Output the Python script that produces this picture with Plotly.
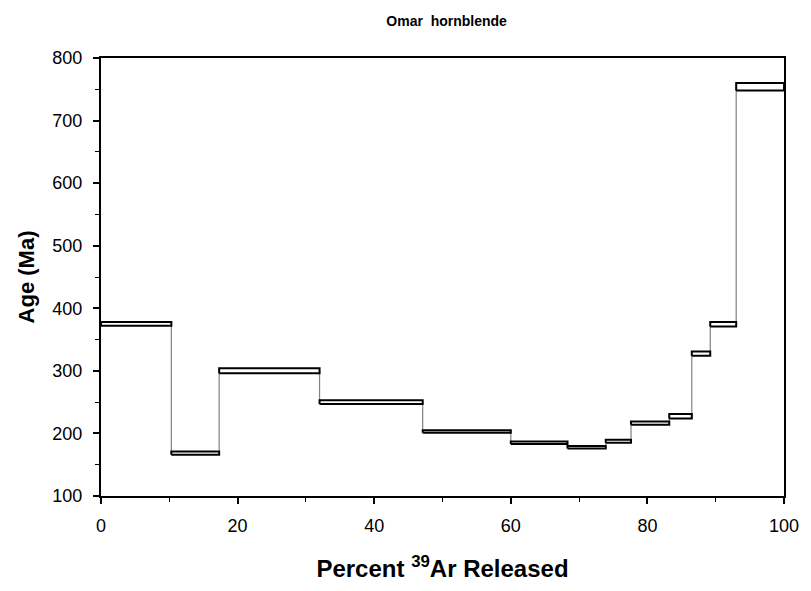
import plotly.graph_objects as go

# Step boundaries (cumulative % 39Ar released)
step_start = [0.0, 10.3, 17.3, 32.0, 47.1, 60.0, 68.3, 73.9, 77.6, 83.2, 86.5, 89.2, 93.0]
step_end   = [10.3, 17.3, 32.0, 47.1, 60.0, 68.3, 73.9, 77.6, 83.2, 86.5, 89.2, 93.0, 100.0]
# Age ranges (Ma): lower and upper bounds of each step
age_low  = [372, 166, 296, 247, 201, 183, 176, 185, 214, 224, 324, 371, 748]
age_high = [378, 171, 304, 253, 205, 187, 180, 190, 219, 231, 331, 378, 760]

x_ticks = [0, 20, 40, 60, 80, 100]
y_ticks = [100, 200, 300, 400, 500, 600, 700, 800]

fig = go.Figure()

# gray connector (step line through mid ages)
mids = [(a + b) / 2 for a, b in zip(age_low, age_high)]
cx, cy = [], []
for i in range(len(mids) - 1):
    cx += [step_end[i], step_end[i], None]
    cy += [mids[i], mids[i + 1], None]
fig.add_trace(go.Scatter(x=cx, y=cy, mode="lines",
                         line=dict(color="#808080", width=1.2),
                         hoverinfo="skip", showlegend=False))

# boxes
for x0, x1, lo, hi in zip(step_start, step_end, age_low, age_high):
    fig.add_trace(go.Scatter(
        x=[x0, x1, x1, x0, x0], y=[lo, lo, hi, hi, lo],
        mode="lines", fill="toself", fillcolor="white",
        line=dict(color="black", width=2),
        hoverinfo="skip", showlegend=False))

font_family = "Liberation Sans, Arial, sans-serif"

fig.update_layout(
    width=811, height=591,
    margin=dict(l=101, r=20, t=58, b=95),
    plot_bgcolor="white", paper_bgcolor="white",
    font=dict(family=font_family, color="black"),
    title=dict(text="<b>Omar\u00a0 hornblende</b>", x=0.5507, xanchor="center",
               y=0.964, yanchor="middle",
               font=dict(size=14, family=font_family, color="black")),
)

fig.update_xaxes(
    range=[0, 100], tickvals=x_ticks, ticktext=[str(v) for v in x_ticks],
    showgrid=False, zeroline=False,
    showline=True, linecolor="black", linewidth=2, mirror=True,
    ticks="outside", ticklen=6, tickwidth=1.5, tickcolor="black",
    ticklabelstandoff=6,
    minor=dict(dtick=10, tick0=0, ticks="outside", ticklen=4, tickwidth=1, tickcolor="black", showgrid=False),
    tickfont=dict(size=18, family=font_family, color="black"),
    title=dict(text="<b>Percent <sup>39</sup>Ar Released</b>",
               font=dict(size=24, family=font_family, color="black"), standoff=26),
)
fig.update_yaxes(
    range=[100, 800], tickvals=y_ticks, ticktext=[str(v) for v in y_ticks],
    showgrid=False, zeroline=False,
    showline=True, linecolor="black", linewidth=2, mirror=True,
    ticks="outside", ticklen=6, tickwidth=1.5, tickcolor="black",
    ticklabelstandoff=7,
    minor=dict(dtick=50, tick0=0, ticks="outside", ticklen=4, tickwidth=1, tickcolor="black", showgrid=False),
    tickfont=dict(size=18, family=font_family, color="black"),
    title=dict(text="<b>Age (Ma)</b>",
               font=dict(size=22, family=font_family, color="black"), standoff=12),
)

fig.write_html("out.html")
